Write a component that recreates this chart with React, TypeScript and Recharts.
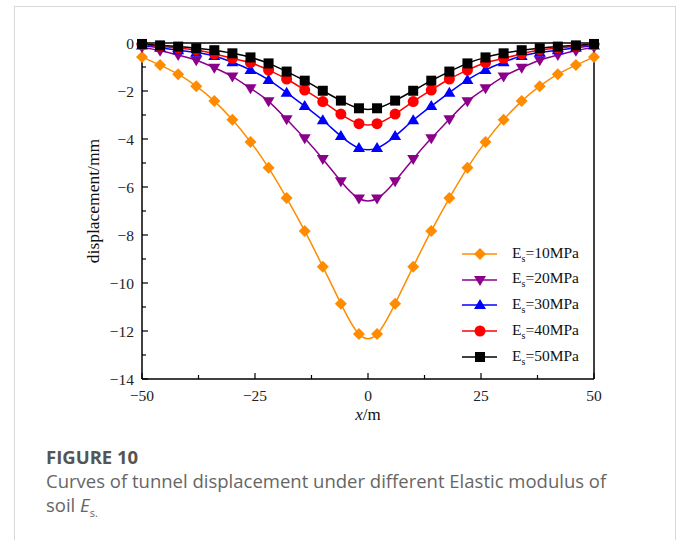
import { LineChart, Line, XAxis, YAxis, ReferenceLine } from "recharts";

const X = [-50, -46, -42, -38, -34, -30, -26, -22, -18, -14, -10, -6, -2, 2, 6, 10, 14, 18, 22, 26, 30, 34, 38, 42, 46, 50];

const ES10 = [-0.58, -0.92, -1.3, -1.8, -2.42, -3.2, -4.12, -5.2, -6.46, -7.83, -9.32, -10.86, -12.13, -12.13, -10.86, -9.32, -7.83, -6.46, -5.2, -4.12, -3.2, -2.42, -1.8, -1.3, -0.92, -0.58];
const ES20 = [-0.18, -0.32, -0.5, -0.72, -1.03, -1.4, -1.89, -2.43, -3.18, -3.97, -4.83, -5.76, -6.48, -6.48, -5.76, -4.83, -3.97, -3.18, -2.43, -1.89, -1.4, -1.03, -0.72, -0.5, -0.32, -0.18];
const ES30 = [-0.1, -0.2, -0.3, -0.4, -0.54, -0.8, -1.12, -1.54, -2.07, -2.63, -3.22, -3.88, -4.38, -4.38, -3.88, -3.22, -2.63, -2.07, -1.54, -1.12, -0.8, -0.54, -0.4, -0.3, -0.2, -0.1];
const ES40 = [-0.07, -0.14, -0.21, -0.29, -0.45, -0.64, -0.82, -1.13, -1.5, -1.96, -2.44, -2.96, -3.36, -3.36, -2.96, -2.44, -1.96, -1.5, -1.13, -0.82, -0.64, -0.45, -0.29, -0.21, -0.14, -0.07];
const ES50 = [-0.04, -0.1, -0.15, -0.22, -0.3, -0.43, -0.6, -0.85, -1.19, -1.57, -1.99, -2.4, -2.72, -2.72, -2.4, -1.99, -1.57, -1.19, -0.85, -0.6, -0.43, -0.3, -0.22, -0.15, -0.1, -0.04];

const X_TICKS = [-50, -37.5, -25, -12.5, 0, 12.5, 25, 37.5, 50];
const X_LABELS = [-50, -25, 0, 25, 50];
const Y_TICKS = [-14, -13, -12, -11, -10, -9, -8, -7, -6, -5, -4, -3, -2, -1, 0];

const SERIES = [
  { key: "es10", label: "10MPa", color: "#FF8C00", shape: "diamond" },
  { key: "es20", label: "20MPa", color: "#8B008B", shape: "down" },
  { key: "es30", label: "30MPa", color: "#0000FF", shape: "up" },
  { key: "es40", label: "40MPa", color: "#FF0000", shape: "circle" },
  { key: "es50", label: "50MPa", color: "#000000", shape: "square" },
];

const data = X.map((x, i) => ({
  x,
  es10: ES10[i],
  es20: ES20[i],
  es30: ES30[i],
  es40: ES40[i],
  es50: ES50[i],
}));

const SERIF = "'Liberation Serif', 'Times New Roman', serif";
const fmt = (v: number) => String(v).replace("-", "\u2212");

function Marker({ shape, cx, cy, color }: { shape: string; cx: number; cy: number; color: string }) {
  if (shape === "diamond")
    return <polygon points={`${cx},${cy - 6} ${cx + 6},${cy} ${cx},${cy + 6} ${cx - 6},${cy}`} fill={color} />;
  if (shape === "down")
    return <polygon points={`${cx - 6},${cy - 4} ${cx + 6},${cy - 4} ${cx},${cy + 6}`} fill={color} />;
  if (shape === "up")
    return <polygon points={`${cx - 6},${cy + 4} ${cx + 6},${cy + 4} ${cx},${cy - 6}`} fill={color} />;
  if (shape === "circle") return <circle cx={cx} cy={cy} r={5.5} fill={color} />;
  return <rect x={cx - 5} y={cy - 5} width={10} height={10} fill={color} />;
}

function XTick({ x, y, payload }: any) {
  const major = X_LABELS.includes(payload.value);
  return (
    <g>
      <line x1={x} y1={y} x2={x} y2={y - (major ? 6 : 4)} stroke="#000" strokeWidth={1.2} />
      {major && (
        <text x={x} y={y + 22} textAnchor="middle" fontFamily={SERIF} fontSize={15.5} fill="#222">
          {fmt(payload.value)}
        </text>
      )}
    </g>
  );
}

function YTick({ x, y, payload }: any) {
  const major = payload.value % 2 === 0;
  return (
    <g>
      <line x1={x} y1={y} x2={x + (major ? 6 : 4)} y2={y} stroke="#000" strokeWidth={1.2} />
      {major && (
        <text x={x - 8} y={y} dy="0.4em" textAnchor="end" fontFamily={SERIF} fontSize={15.5} fill="#222">
          {fmt(payload.value)}
        </text>
      )}
    </g>
  );
}

function XTitle({ viewBox }: any) {
  const cx = viewBox.x + viewBox.width / 2;
  return (
    <text x={cx} y={420} textAnchor="middle" fontFamily={SERIF} fontSize={17} fill="#111">
      <tspan fontStyle="italic">x</tspan>/m
    </text>
  );
}

function YTitle() {
  return (
    <text x={99} y={201} transform="rotate(-90 99 201)" textAnchor="middle" fontFamily={SERIF} fontSize={17.5} fill="#111">
      displacement/mm
    </text>
  );
}

function LegendBox() {
  return (
    <div style={{ position: "absolute", left: 460, top: 241, fontFamily: SERIF, fontSize: 15.5, color: "#111" }}>
      {SERIES.map((s) => (
        <div key={s.key} style={{ display: "flex", alignItems: "center", height: 25.7 }}>
          <svg width={40} height={16} style={{ display: "block" }}>
            <line x1={2} y1={8} x2={37} y2={8} stroke={s.color} strokeWidth={1.5} />
            <Marker shape={s.shape} cx={20} cy={8} color={s.color} />
          </svg>
          <span style={{ marginLeft: 12 }}>
            E<sub style={{ fontSize: 10 }}>s</sub>={s.label}
          </span>
        </div>
      ))}
    </div>
  );
}

export default function App() {
  return (
    <div style={{ position: "absolute", left: 0, top: 0, width: 681, height: 540, background: "#fff", overflow: "hidden" }}>
      <div style={{ position: "absolute", left: 14, top: 6, width: 660, height: 560, border: "1.5px solid #d8d8d8" }} />
      <div style={{ position: "absolute", left: 0, top: 0 }}>
        <LineChart width={681} height={440} data={data} margin={{ top: 43, right: 87, bottom: 21, left: 82 }}>
          <XAxis
            dataKey="x"
            type="number"
            domain={[-50, 50]}
            ticks={X_TICKS}
            interval={0}
            tickSize={0}
            tickMargin={0}
            height={40}
            tick={<XTick />}
            axisLine={{ stroke: "#000", strokeWidth: 1.5 }}
            label={{ content: <XTitle /> }}
          />
          <YAxis
            type="number"
            domain={[-14, 0]}
            ticks={Y_TICKS}
            interval={0}
            tickSize={0}
            tickMargin={0}
            width={60}
            tick={<YTick />}
            axisLine={{ stroke: "#000", strokeWidth: 1.5 }}
            label={{ content: <YTitle /> }}
          />
          <ReferenceLine y={0} stroke="#000" strokeWidth={1.5} ifOverflow="visible" />
          <ReferenceLine x={50} stroke="#000" strokeWidth={1.5} ifOverflow="visible" />
          {SERIES.map((s) => (
            <Line
              key={s.key}
              dataKey={s.key}
              type="natural"
              stroke={s.color}
              strokeWidth={1.5}
              isAnimationActive={false}
              activeDot={false}
              dot={(p: any) => <Marker key={`${s.key}-${p.index}`} shape={s.shape} cx={p.cx} cy={p.cy} color={s.color} />}
            />
          ))}
        </LineChart>
      </div>
      <LegendBox />
      <div style={{ position: "absolute", left: 46, top: 445, fontFamily: "'Open Sans', sans-serif", color: "#555" }}>
        <div style={{ fontSize: 18.5, fontWeight: 700, lineHeight: "24px" }}>FIGURE 10</div>
        <div style={{ fontSize: 18.5, lineHeight: "24px", color: "#666", width: 620 }}>
          Curves of tunnel displacement under different Elastic modulus of
          <br />
          soil <i>E</i>
          <sub style={{ fontSize: 11 }}>s.</sub>
        </div>
      </div>
    </div>
  );
}
